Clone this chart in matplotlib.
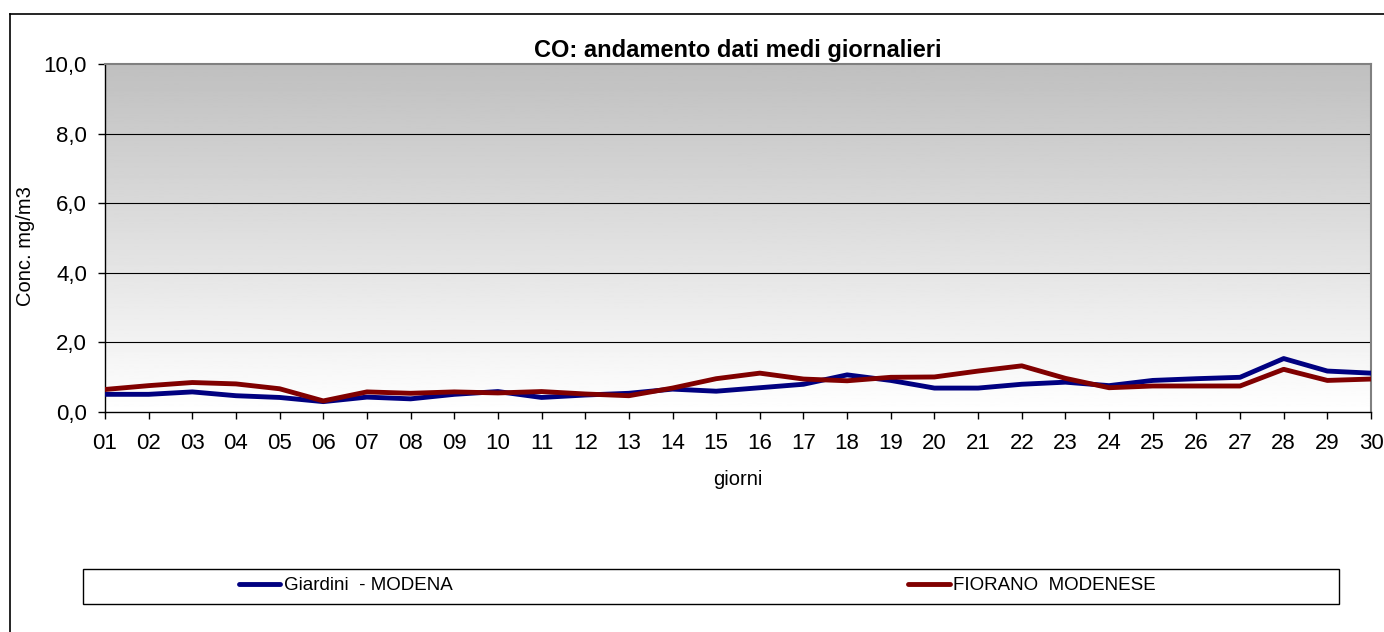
import numpy as np
import matplotlib
matplotlib.use("Agg")
import matplotlib.pyplot as plt
from matplotlib.patches import Rectangle
from matplotlib.lines import Line2D

plt.rcParams['font.family'] = ['Liberation Sans', 'DejaVu Sans']

days = ['%02d' % d for d in range(1, 31)]

giardini = [0.50, 0.50, 0.57, 0.46, 0.41, 0.29, 0.42, 0.37, 0.50, 0.58,
            0.41, 0.48, 0.53, 0.65, 0.59, 0.69, 0.79, 1.06, 0.90, 0.68,
            0.68, 0.79, 0.85, 0.75, 0.90, 0.95, 0.99, 1.53, 1.17, 1.11]

fiorano = [0.64, 0.75, 0.84, 0.80, 0.66, 0.31, 0.57, 0.53, 0.57, 0.54,
           0.58, 0.51, 0.46, 0.68, 0.95, 1.11, 0.94, 0.89, 0.99, 1.00,
           1.17, 1.32, 0.96, 0.69, 0.74, 0.74, 0.74, 1.22, 0.90, 0.94]

y_ticks = [0, 2, 4, 6, 8, 10]
y_labels = ['0,0', '2,0', '4,0', '6,0', '8,0', '10,0']

W, H = 1384, 632
fig = plt.figure(figsize=(W / 100, H / 100), dpi=100)

# chart outer border (left and top only visible)
fig.add_artist(Line2D([10 / W, 10 / W], [0, 1 - 14 / H], transform=fig.transFigure, color='black', lw=1.2))
fig.add_artist(Line2D([10 / W, 1], [1 - 14 / H, 1 - 14 / H], transform=fig.transFigure, color='black', lw=1.2))

ax = fig.add_axes([105 / W, 1 - 411.7 / H, (1371 - 105) / W, (411.7 - 64.3) / H])

x = np.arange(len(days))

# gray to white gradient background
grad = np.linspace(1.0, 0.75, 256).reshape(-1, 1)
ax.imshow(grad, cmap='gray', vmin=0, vmax=1, aspect='auto',
          extent=[x[0], x[-1], 0, 10], origin='lower', zorder=0)

for yv in y_ticks[1:-1]:
    ax.axhline(yv, color='black', lw=0.8, zorder=1)

ax.plot(x, giardini, color='#000080', lw=3.5, solid_capstyle='round', zorder=3)
ax.plot(x, fiorano, color='#800000', lw=3.5, solid_capstyle='round', zorder=4)

ax.set_xlim(x[0], x[-1])
ax.set_ylim(0, 10)
ax.set_xticks(x)
ax.set_xticklabels(days)
ax.set_yticks(y_ticks)
ax.set_yticklabels(y_labels)
ax.tick_params(axis='both', direction='out', length=5, width=1, labelsize=16)
ax.tick_params(axis='x', pad=10)
ax.tick_params(axis='y', pad=8)
for side in ['top', 'right']:
    ax.spines[side].set_color('#808080')
    ax.spines[side].set_linewidth(1.5)
for side in ['left', 'bottom']:
    ax.spines[side].set_color('black')
    ax.spines[side].set_linewidth(1)

ax.set_title('CO: andamento dati medi giornalieri', fontsize=17, fontweight='bold', pad=5)
ax.set_ylabel('Conc. mg/m3', fontsize=14.5)
ax.yaxis.set_label_coords(-0.0553, 0.477)
ax.set_xlabel('giorni', fontsize=14.5)
ax.xaxis.set_label_coords(0.5, (411.7 - 470) / 347.4)

# legend frame
fig.add_artist(Rectangle((83 / W, 1 - 604 / H), (1339 - 83) / W, 35 / H,
                         transform=fig.transFigure, facecolor='white', edgecolor='black', lw=1))
handles = [Line2D([], [], color='#000080', lw=3.5, solid_capstyle='round'),
           Line2D([], [], color='#800000', lw=3.5, solid_capstyle='round')]
fig.legend(handles, ['Giardini  - MODENA', 'FIORANO  MODENESE'], ncol=2, frameon=False,
           loc='center left', bbox_to_anchor=(239 / W, 1 - 585.5 / H),
           fontsize=13.5, handlelength=2.2, handletextpad=0.2, columnspacing=24.3,
           borderaxespad=0, borderpad=0)

fig.savefig('out.png', dpi=100)
